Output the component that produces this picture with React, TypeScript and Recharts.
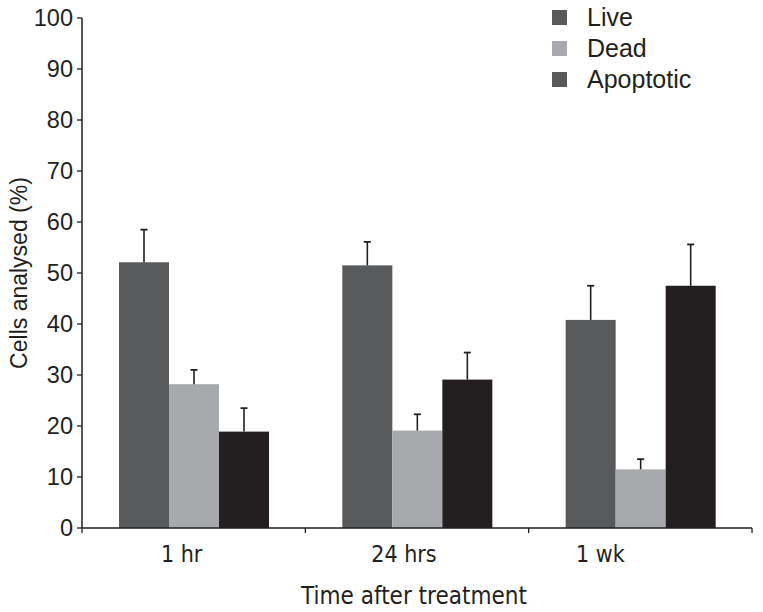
import { BarChart, Bar, XAxis, YAxis, Legend } from "recharts";

const categories = ["1 hr", "24 hrs", "1 wk"];
const live = [52.1, 51.5, 40.8];
const liveErr = [6.4, 4.6, 6.7];
const dead = [28.2, 19.1, 11.5];
const deadErr = [2.8, 3.2, 2.0];
const apoptotic = [18.9, 29.1, 47.5];
const apoptoticErr = [4.6, 5.3, 8.1];
const yTicks = [0, 10, 20, 30, 40, 50, 60, 70, 80, 90, 100];
const seriesNames = ["Live", "Dead", "Apoptotic"];

const barColors = ["#58595b", "#a7a9ac", "#231f20"];
const legendColors = ["#58595b", "#a7a9ac", "#58595b"];
const ink = "#231f20";
const font = "'Liberation Sans', Arial, sans-serif";
const narrow = "'Liberation Sans Narrow', 'DejaVu Sans Condensed', sans-serif";

// chart geometry
const W = 763;
const H = 612;
const M = { top: 18, right: 11, bottom: 0, left: 0 };
const Y_W = 82;
const X_H = 84;
const halfBand = (W - M.left - M.right - Y_W) / categories.length / 2;
// labels in the original sit a little left of the group centres
const labelShift = [-12, -13, -40];

const data = categories.map((c, i) => ({
    cat: c,
    live: live[i],
    liveErr: liveErr[i],
    dead: dead[i],
    deadErr: deadErr[i],
    apoptotic: apoptotic[i],
    apoptoticErr: apoptoticErr[i],
}));

const errShape = (errKey: string) => (props: any) => {
    const { x, y, width, height, fill, payload, value } = props;
    const v = Array.isArray(value) ? value[1] - value[0] : value;
    const pxPer = v ? height / v : 0;
    const e = payload[errKey] * pxPer;
    const cx = x + width / 2;
    return (
        <g>
            <rect x={x} y={y} width={width} height={height} fill={fill} />
            <line x1={cx} x2={cx} y1={y} y2={y - e} stroke={ink} strokeWidth={1.6} />
            <line x1={cx - 3.5} x2={cx + 3.5} y1={y - e} y2={y - e} stroke={ink} strokeWidth={1.8} />
        </g>
    );
};

const XTick = (props: any) => {
    const { x, y, payload, index } = props;
    const last = index === categories.length - 1;
    return (
        <g>
            <line x1={x - halfBand} x2={x - halfBand} y1={y} y2={y + 5} stroke={ink} strokeWidth={1.3} />
            {last && <line x1={x + halfBand} x2={x + halfBand} y1={y} y2={y + 5} stroke={ink} strokeWidth={1.3} />}
            <text x={x + labelShift[index]} y={y + 34} textAnchor="middle" fill={ink}
                style={{ fontFamily: narrow, fontSize: 23 }}>
                {payload.value}
            </text>
        </g>
    );
};

const LegendBox = () => (
    <div style={{ fontFamily: font, fontSize: 25, color: ink }}>
        {seriesNames.map((n, i) => (
            <div key={n} style={{ display: "flex", alignItems: "center", height: 31 }}>
                <span style={{ display: "inline-block", width: 15, height: 15, background: legendColors[i], marginRight: 20 }} />
                <span>{n}</span>
            </div>
        ))}
    </div>
);

export default function App() {
    return (
        <div style={{ position: "absolute", left: 0, top: 0, background: "#fff" }}>
            <BarChart width={W} height={H} data={data} margin={M} barCategoryGap={37} barGap={0}>
                <YAxis
                    width={Y_W}
                    domain={[0, 100]}
                    ticks={yTicks}
                    interval={0}
                    tickSize={5}
                    tickMargin={4}
                    stroke={ink}
                    tick={{ fill: ink, fontSize: 23.5, fontFamily: font }}
                    axisLine={{ stroke: ink, strokeWidth: 1.5 }}
                    tickLine={{ stroke: ink, strokeWidth: 1.3 }}
                    label={{ value: "Cells analysed (%)", angle: -90, position: "center", dx: -22, fill: ink, fontSize: 23, fontFamily: font }}
                />
                <XAxis
                    dataKey="cat"
                    height={X_H}
                    tickSize={0}
                    tickMargin={0}
                    tickLine={false}
                    tick={<XTick />}
                    interval={0}
                    axisLine={{ stroke: ink, strokeWidth: 1.5 }}
                    label={{ value: "Time after treatment", position: "insideBottom", offset: 8, dx: -3, fill: ink, fontSize: 24, fontFamily: narrow }}
                />
                <Legend layout="vertical" align="center" verticalAlign="middle" content={<LegendBox />}
                    wrapperStyle={{ position: "absolute", left: 552, top: 2, width: 200 }} />
                <Bar dataKey="live" name="Live" fill={barColors[0]} shape={errShape("liveErr")} isAnimationActive={false} />
                <Bar dataKey="dead" name="Dead" fill={barColors[1]} shape={errShape("deadErr")} isAnimationActive={false} />
                <Bar dataKey="apoptotic" name="Apoptotic" fill={barColors[2]} shape={errShape("apoptoticErr")} isAnimationActive={false} />
            </BarChart>
        </div>
    );
}
